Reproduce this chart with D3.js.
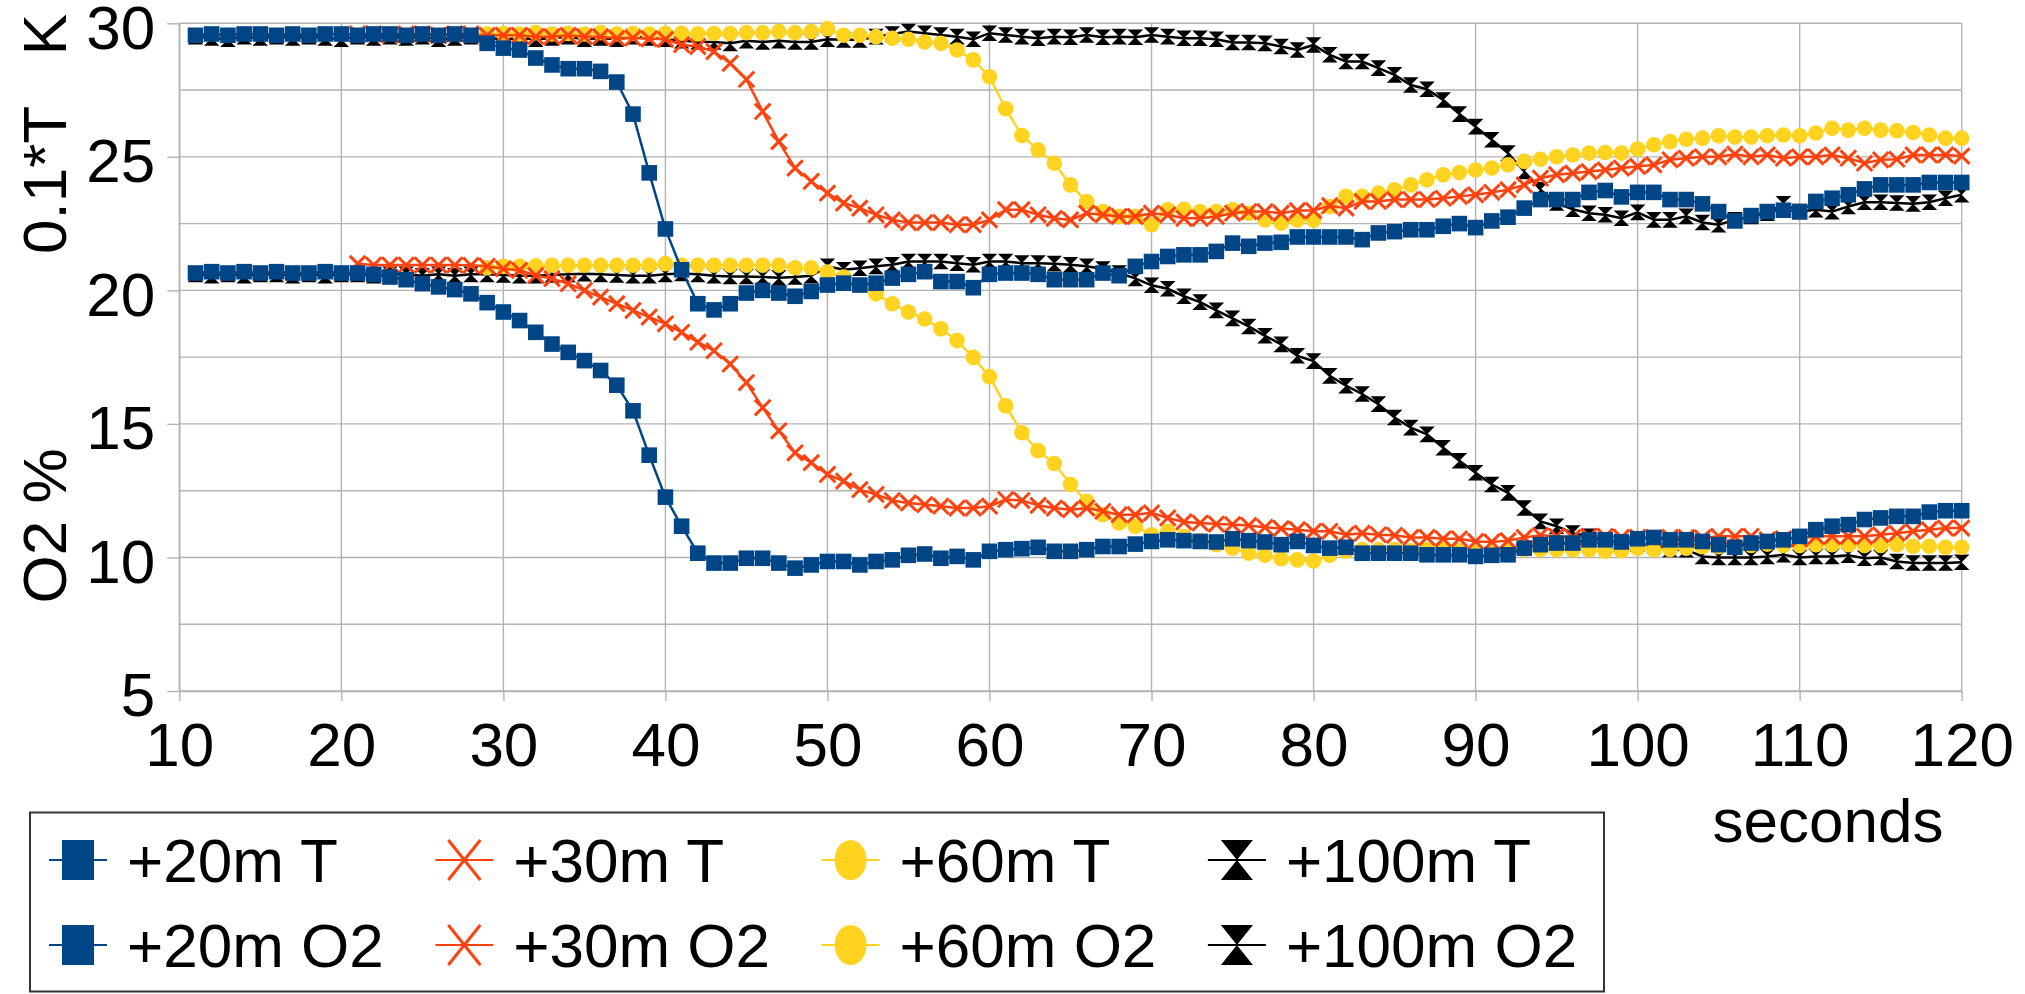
<!DOCTYPE html>
<html><head><meta charset="utf-8">
<script src="https://cdn.jsdelivr.net/npm/d3@7"></script>
<style>
body{margin:0;background:#fff;}
svg text{font-family:"Liberation Sans", Arial, sans-serif; fill:#000;}
</style></head><body>
<svg id="chart" width="2025" height="994"></svg>
<script>
// ---------- data ----------
const xTicks = [10,20,30,40,50,60,70,80,90,100,110,120];
const yTicks = [5,10,15,20,25,30];
const yMinor = [7.5,12.5,17.5,22.5,27.5];
const yTitleTop = "0.1*T   K";
const yTitleBottom = "O2 %";
const xTitle = "seconds";

const start20 = 11, start30 = 21, start60 = 29, start100 = 11;

const t20 = [29.55,29.6,29.55,29.6,29.6,29.55,29.6,29.55,29.6,29.6,29.55,29.6,29.6,29.55,29.6,29.55,29.6,29.55,
 29.25,29.07,29.0,28.7,28.44,28.3,28.3,28.2,27.8,26.6,
 24.4,22.3,20.77,19.5,19.27,19.5,19.9,20.0,19.9,19.78,
 19.96,20.2,20.27,20.2,20.27,20.46,20.6,20.7,20.33,20.33,
 20.1,20.6,20.65,20.65,20.6,20.4,20.4,20.4,20.65,20.55,
 20.9,21.08,21.27,21.33,21.33,21.46,21.77,21.65,21.77,21.8,
 22.0,22.0,22.0,22.0,21.9,22.15,22.2,22.27,22.27,22.4,
 22.5,22.35,22.6,22.74,23.08,23.4,23.4,23.4,23.67,23.74,
 23.5,23.67,23.67,23.4,23.4,23.24,22.95,22.6,22.8,22.95,
 23.0,22.95,23.33,23.45,23.58,23.8,23.95,23.95,23.95,24.04,24.04,24.04];

const t30 = [29.6,29.6,29.55,29.6,29.6,29.55,29.6,29.6,
 29.55,29.55,29.55,29.5,29.5,29.55,29.5,29.5,29.44,29.45,
 29.42,29.4,29.2,29.13,28.94,28.5,27.9,26.7,25.57,24.58,
 24.08,23.64,23.27,23.08,22.83,22.64,22.54,22.54,22.54,22.46,
 22.46,22.64,23.02,23.02,22.83,22.7,22.64,22.89,22.83,22.77,
 22.77,22.89,22.83,22.7,22.7,22.77,22.89,22.95,22.95,22.89,
 22.99,22.99,23.17,23.08,23.33,23.33,23.4,23.4,23.4,23.45,
 23.52,23.58,23.67,23.77,23.95,24.2,24.33,24.39,24.45,24.51,
 24.58,24.64,24.7,24.89,24.95,25.0,25.0,25.1,25.0,25.07,
 24.95,25.0,25.0,25.07,24.95,24.76,24.89,24.91,25.07,25.07,25.07,25.03];

const t60 = [29.6,29.62,29.6,29.65,29.6,29.62,29.6,29.65,29.6,29.62,
 29.6,29.62,29.63,29.6,29.62,29.62,29.65,29.65,29.69,29.65,
 29.69,29.8,29.55,29.55,29.5,29.44,29.4,29.3,29.25,29.0,
 28.63,28.0,26.8,25.8,25.26,24.76,23.95,23.33,22.95,22.77,
 22.77,22.46,23.02,23.04,22.95,22.95,23.02,22.89,22.64,22.52,
 22.64,22.64,23.14,23.52,23.52,23.64,23.77,23.95,24.14,24.33,
 24.41,24.51,24.58,24.7,24.83,24.91,25.0,25.07,25.14,25.16,
 25.14,25.29,25.45,25.57,25.66,25.7,25.79,25.74,25.74,25.79,
 25.82,25.79,25.89,26.07,26.0,26.07,26.0,25.98,25.91,25.82,25.7,25.7];

const t100 = [29.5,29.45,29.4,29.5,29.45,29.5,29.45,29.5,29.45,29.4,
 29.5,29.45,29.5,29.45,29.5,29.4,29.45,29.5,29.45,29.4,
 29.45,29.4,29.45,29.5,29.4,29.45,29.4,29.5,29.45,29.4,
 29.35,29.31,29.3,29.25,29.35,29.3,29.35,29.3,29.3,29.4,
 29.38,29.38,29.5,29.6,29.69,29.63,29.56,29.5,29.4,29.63,
 29.56,29.5,29.44,29.5,29.48,29.56,29.48,29.5,29.48,29.56,
 29.5,29.44,29.44,29.4,29.28,29.28,29.25,29.13,29.0,29.19,
 28.82,28.57,28.57,28.32,28.07,27.69,27.53,27.13,26.6,26.13,
 25.64,25.14,24.45,23.77,23.27,23.04,22.89,22.83,22.7,22.92,
 22.64,22.64,22.77,22.54,22.46,22.64,22.77,22.89,23.24,22.95,
 23.02,22.95,23.14,23.3,23.3,23.27,23.24,23.3,23.45,23.58];

const o20 = [20.65,20.7,20.65,20.7,20.65,20.7,20.65,20.65,20.7,20.65,
 20.65,20.6,20.5,20.4,20.25,20.13,20.03,19.87,19.54,19.19,
 18.87,18.43,17.99,17.68,17.37,17.0,16.45,15.49,13.83,12.26,
 11.17,10.16,9.79,9.79,9.97,9.97,9.79,9.6,9.72,9.85,
 9.85,9.72,9.85,9.91,10.08,10.13,9.97,10.04,9.91,10.23,
 10.29,10.33,10.38,10.23,10.23,10.29,10.41,10.41,10.5,10.6,
 10.66,10.63,10.6,10.58,10.7,10.63,10.58,10.48,10.6,10.45,
 10.35,10.38,10.16,10.16,10.16,10.16,10.1,10.1,10.1,10.04,
 10.08,10.1,10.35,10.48,10.54,10.54,10.66,10.66,10.58,10.7,
 10.75,10.66,10.66,10.6,10.48,10.38,10.54,10.6,10.66,10.79,
 11.04,11.17,11.23,11.42,11.48,11.54,11.54,11.7,11.75,11.75];

const o30 = [21.0,20.95,20.95,20.95,20.95,20.95,20.95,20.94,20.9,20.81,
 20.75,20.56,20.44,20.25,20.0,19.75,19.5,19.25,19.0,18.75,
 18.43,18.06,17.74,17.24,16.55,15.61,14.74,13.92,13.55,13.11,
 12.86,12.54,12.36,12.13,12.04,11.98,11.92,11.85,11.85,11.92,
 12.17,12.13,11.95,11.85,11.79,11.85,11.73,11.6,11.6,11.67,
 11.48,11.33,11.29,11.25,11.23,11.2,11.13,11.08,11.04,10.98,
 10.98,10.85,10.91,10.85,10.83,10.75,10.75,10.7,10.7,10.6,
 10.58,10.63,10.75,10.83,10.79,10.75,10.79,10.79,10.75,10.75,
 10.73,10.75,10.75,10.73,10.79,10.79,10.79,10.66,10.7,10.7,
 10.79,10.79,10.79,10.79,10.85,10.91,10.98,11.04,11.1,11.1];

const o60 = [20.85,20.9,20.9,20.92,20.94,20.94,20.94,20.94,20.94,20.94,
 20.94,21.0,20.94,20.94,20.94,20.94,20.94,20.94,20.94,20.85,
 20.85,20.69,20.5,20.2,19.87,19.5,19.19,18.93,18.56,18.12,
 17.49,16.77,15.68,14.67,14.0,13.52,12.73,12.1,11.6,11.29,
 11.17,10.85,10.98,10.79,10.63,10.48,10.35,10.16,10.08,9.95,
 9.91,9.87,10.08,10.23,10.3,10.3,10.3,10.25,10.3,10.3,
 10.25,10.2,10.2,10.25,10.3,10.3,10.29,10.29,10.29,10.23,
 10.25,10.35,10.29,10.3,10.35,10.4,10.4,10.45,10.45,10.5,
 10.45,10.45,10.48,10.48,10.48,10.45,10.45,10.48,10.42,10.42,10.38,10.38];

const o100 = [20.6,20.55,20.6,20.55,20.6,20.6,20.55,20.6,20.55,20.6,
 20.6,20.55,20.6,20.6,20.55,20.6,20.55,20.6,20.6,20.58,
 20.55,20.55,20.58,20.6,20.62,20.6,20.58,20.55,20.55,20.6,
 20.63,20.6,20.55,20.52,20.52,20.5,20.47,20.5,20.55,20.9,
 20.77,20.83,20.9,20.96,21.08,21.08,21.08,21.02,20.96,21.08,
 21.08,21.02,21.02,21.0,20.96,20.9,20.8,20.65,20.45,20.19,
 20.06,19.78,19.56,19.25,18.95,18.65,18.3,17.98,17.55,17.35,
 16.8,16.43,16.12,15.74,15.24,14.86,14.61,14.11,13.62,13.17,
 12.73,12.42,11.85,11.35,11.17,10.91,10.79,10.62,10.58,10.5,
 10.45,10.3,10.29,10.04,10.0,10.0,10.0,10.04,10.1,10.0,
 10.04,10.04,10.08,9.97,10.0,9.85,9.79,9.79,9.79,9.82];

// ---------- series config (legend order) ----------
const BLUE="#004586", ORANGE="#ff420e", YELLOW="#ffd320", BLACK="#000000";
const series = [
  {name:"+20m T",   values:t20,  start:start20,  color:BLUE,   sym:"square"},
  {name:"+30m T",   values:t30,  start:start30,  color:ORANGE, sym:"x"},
  {name:"+60m T",   values:t60,  start:start60,  color:YELLOW, sym:"circle"},
  {name:"+100m T",  values:t100, start:start100, color:BLACK,  sym:"hourglass"},
  {name:"+20m O2",  values:o20,  start:start20,  color:BLUE,   sym:"square"},
  {name:"+30m O2",  values:o30,  start:start30,  color:ORANGE, sym:"x"},
  {name:"+60m O2",  values:o60,  start:start60,  color:YELLOW, sym:"circle"},
  {name:"+100m O2", values:o100, start:start100, color:BLACK,  sym:"hourglass"}
];

// ---------- layout ----------
const svg = d3.select("#chart");
const FONT = 62;
const x = d3.scaleLinear().domain([10,120]).range([179.3,1961.7]);
const y = d3.scaleLinear().domain([5,30]).range([691,23.3]);
const GRID = "#b3b3b3";

// grid
const g = svg.append("g");
g.selectAll("line.h").data(yTicks.concat(yMinor)).join("line")
  .attr("x1",x(10)).attr("x2",x(120)).attr("y1",d=>y(d)).attr("y2",d=>y(d))
  .attr("stroke",GRID).attr("stroke-width",1.4);
g.selectAll("line.v").data(xTicks).join("line")
  .attr("y1",y(5)).attr("y2",y(30)).attr("x1",d=>x(d)).attr("x2",d=>x(d))
  .attr("stroke",GRID).attr("stroke-width",1.4);

// axes
const ay = svg.append("g").attr("transform",`translate(${x(10)},0)`)
  .call(d3.axisLeft(y).tickValues(yTicks).tickFormat(d3.format("d")).tickSize(12).tickSizeOuter(0).tickPadding(12));
const ax = svg.append("g").attr("transform",`translate(0,${y(5)})`)
  .call(d3.axisBottom(x).tickValues(xTicks).tickFormat(d3.format("d")).tickSize(10).tickSizeOuter(0).tickPadding(21));
[ay,ax].forEach(a=>{
  a.selectAll("path.domain").attr("stroke",GRID).attr("stroke-width",1.4);
  a.selectAll(".tick line").attr("stroke",GRID).attr("stroke-width",1.4);
  a.selectAll(".tick text").attr("font-size",FONT).attr("font-family","Liberation Sans, Arial, sans-serif").attr("fill","#000");
});
ay.selectAll(".tick text").attr("dy","0.4em");

// axis titles
svg.append("text").attr("transform","translate(66,134) rotate(-90)")
  .attr("text-anchor","middle").attr("font-size",FONT).style("white-space","pre").text(yTitleTop);
svg.append("text").attr("transform","translate(66,526) rotate(-90)")
  .attr("text-anchor","middle").attr("font-size",FONT).text(yTitleBottom);
svg.append("text").attr("x",1828).attr("y",842)
  .attr("text-anchor","middle").attr("font-size",FONT).text(xTitle);

// symbols
function symPath(sym, a, b){
  if(sym==="x") return `M${-a},${-b}L${a},${b}M${a},${-b}L${-a},${b}`;
  if(sym==="hourglass") return `M${-a},${-b}L${a},${-b}L${-a},${b}L${a},${b}Z`;
  if(sym==="square") return `M${-a},${-b}H${a}V${b}H${-a}Z`;
  return null;
}
function drawSymbol(sel, s, a, b, sw){
  if(s.sym==="circle"){
    sel.append("ellipse").attr("rx",a).attr("ry",b).attr("fill",s.color);
  } else if(s.sym==="x"){
    sel.append("path").attr("d",symPath("x",a,b)).attr("stroke",s.color).attr("stroke-width",sw).attr("fill","none");
  } else {
    sel.append("path").attr("d",symPath(s.sym,a,b)).attr("fill",s.color);
  }
}

// series (draw black first so blue ends on top, as in reference)
const drawOrder = [7,6,5,4,3,2,1,0];
const line = d3.line().x(d=>x(d.t)).y(d=>y(d.v));
drawOrder.forEach(i=>{
  const s = series[i];
  const pts = s.values.map((v,k)=>({t:s.start+k, v}));
  const sg = svg.append("g");
  sg.append("path").datum(pts).attr("d",line).attr("fill","none")
    .attr("stroke",s.color).attr("stroke-width",2.5);
  sg.selectAll("g.m").data(pts).join("g")
    .attr("transform",d=>`translate(${x(d.t)},${y(d.v)})`)
    .each(function(){ drawSymbol(d3.select(this), s, 7.8, 7.8, 3); });
});

// legend
const lg = svg.append("g");
lg.append("rect").attr("x",30).attr("y",812.5).attr("width",1574).attr("height",179)
  .attr("fill","#fff").attr("stroke","#333").attr("stroke-width",2);
series.forEach((s,i)=>{
  const col = i%4, row = Math.floor(i/4);
  const cx = 78 + col*386.3;
  const base = 882 + row*85;
  const cy = base - 22;
  const e = lg.append("g");
  e.append("line").attr("x1",cx-29).attr("x2",cx+29).attr("y1",cy).attr("y2",cy)
    .attr("stroke",s.color).attr("stroke-width",2);
  const sg = e.append("g").attr("transform",`translate(${cx},${cy})`);
  drawSymbol(sg, s, 16, 20, 3);
  e.append("text").attr("x",cx+49).attr("y",base).attr("font-size",FONT).text(s.name);
});
</script>
</body></html>
